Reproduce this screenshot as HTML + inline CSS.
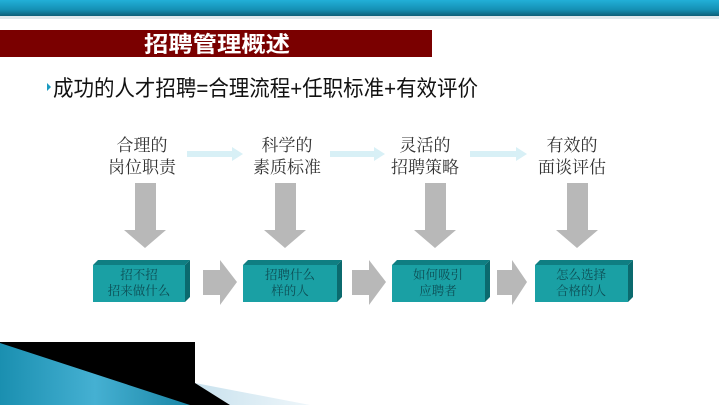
<!DOCTYPE html>
<html><head><meta charset="utf-8"><style>
html,body{margin:0;padding:0;background:#fff;}
body{width:719px;height:405px;overflow:hidden;position:relative;font-family:"Liberation Sans","Noto Sans CJK SC",sans-serif;}
svg{position:absolute;left:0;top:0;}
</style></head><body>
<svg width="719" height="405" viewBox="0 0 719 405" xmlns="http://www.w3.org/2000/svg">
<defs>
<linearGradient id="tb" x1="0" y1="0" x2="0" y2="1">
<stop offset="0" stop-color="#22b0d8"/><stop offset="0.6" stop-color="#1590b4"/><stop offset="1" stop-color="#0d5f78"/>
</linearGradient>
<linearGradient id="tri" x1="0" y1="0" x2="1" y2="0">
<stop offset="0" stop-color="#1a8fb0"/><stop offset="0.5" stop-color="#45b0d2"/><stop offset="1" stop-color="#1a86a6"/>
</linearGradient>
<linearGradient id="lb" x1="0" y1="0" x2="1" y2="0">
<stop offset="0" stop-color="#c9e2ee"/><stop offset="1" stop-color="#eef6fa"/>
</linearGradient>
</defs>
<rect x="0" y="0" width="719" height="16" fill="url(#tb)"/>
<rect x="0" y="16" width="719" height="3" fill="#dfe8ec"/>
<rect x="0" y="30" width="432" height="27" fill="#7a0000"/>
<text x="144" y="52" font-size="22" font-weight="bold" fill="#fff" textLength="146" lengthAdjust="spacingAndGlyphs" font-family="Liberation Sans,Noto Sans CJK SC,sans-serif">招聘管理概述</text>
<polygon points="47,83 51,87 47,91" fill="#1a9ac0"/>
<text x="53" y="96" font-size="22" fill="#111" textLength="425" lengthAdjust="spacingAndGlyphs" font-family="Liberation Sans,Noto Sans CJK SC,sans-serif">成功的人才招聘=合理流程+任职标准+有效评价</text>

<g font-family="Noto Serif CJK SC,serif" font-size="17" fill="#333" text-anchor="middle">
<text x="142" y="151">合理的</text><text x="142" y="173">岗位职责</text>
<text x="287" y="151">科学的</text><text x="287" y="173">素质标准</text>
<text x="425" y="151">灵活的</text><text x="425" y="173">招聘策略</text>
<text x="572" y="151">有效的</text><text x="572" y="173">面谈评估</text>
</g>
<g fill="#d8f0f6">
<polygon points="187,151 232,151 232,147 243,154 232,161 232,157 187,157"/>
<polygon points="330,151 374,151 374,147 385,154 374,161 374,157 330,157"/>
<polygon points="470,151 516,151 516,147 527,154 516,161 516,157 470,157"/>
</g>
<g fill="#b8b8b8">
<polygon points="135,183 156,183 156,230 166,230 145,248 124,230 135,230"/>
<polygon points="275,183 296,183 296,230 306,230 285,248 264,230 275,230"/>
<polygon points="425,183 446,183 446,230 456,230 435,248 414,230 425,230"/>
<polygon points="567,183 588,183 588,230 598,230 577,248 556,230 567,230"/>
<polygon points="203,270 220,270 220,260 237,282 220,305 220,295 203,295"/>
<polygon points="352,270 369,270 369,260 386,282 369,305 369,295 352,295"/>
<polygon points="497,270 512,270 512,260 527,282 512,305 512,295 497,295"/>
</g>
<g>
<g transform="translate(93,0)"><polygon points="0,265 5,260 97,260 92,265" fill="#0f7e82"/><polygon points="92,265 97,260 97,297 92,302" fill="#0b6a6e"/><rect x="0" y="265" width="92" height="37" fill="#1aa0a4"/></g>
<g transform="translate(243,0)"><polygon points="0,265 5,260 99,260 94,265" fill="#0f7e82"/><polygon points="94,265 99,260 99,297 94,302" fill="#0b6a6e"/><rect x="0" y="265" width="94" height="37" fill="#1aa0a4"/></g>
<g transform="translate(392,0)"><polygon points="0,265 5,260 98,260 93,265" fill="#0f7e82"/><polygon points="93,265 98,260 98,297 93,302" fill="#0b6a6e"/><rect x="0" y="265" width="93" height="37" fill="#1aa0a4"/></g>
<g transform="translate(535,0)"><polygon points="0,265 5,260 98,260 93,265" fill="#0f7e82"/><polygon points="93,265 98,260 98,297 93,302" fill="#0b6a6e"/><rect x="0" y="265" width="93" height="37" fill="#1aa0a4"/></g>
</g>
<g font-family="Noto Serif CJK SC,serif" font-size="12.5" fill="#0d4e55" text-anchor="middle">
<text x="139" y="279">招不招</text><text x="139" y="295">招来做什么</text>
<text x="290" y="279">招聘什么</text><text x="290" y="295">样的人</text>
<text x="438" y="279">如何吸引</text><text x="438" y="295">应聘者</text>
<text x="581" y="279">怎么选择</text><text x="581" y="295">合格的人</text>
</g>

<polygon points="195,383 310,405 230,405" fill="url(#lb)"/>
<rect x="0" y="342" width="195" height="63" fill="#000"/>
<polygon points="195,383 230,405 190,405 195,400" fill="#000"/>
<polygon points="0,343 190,405 0,405" fill="url(#tri)"/>
</svg>
</body></html>
